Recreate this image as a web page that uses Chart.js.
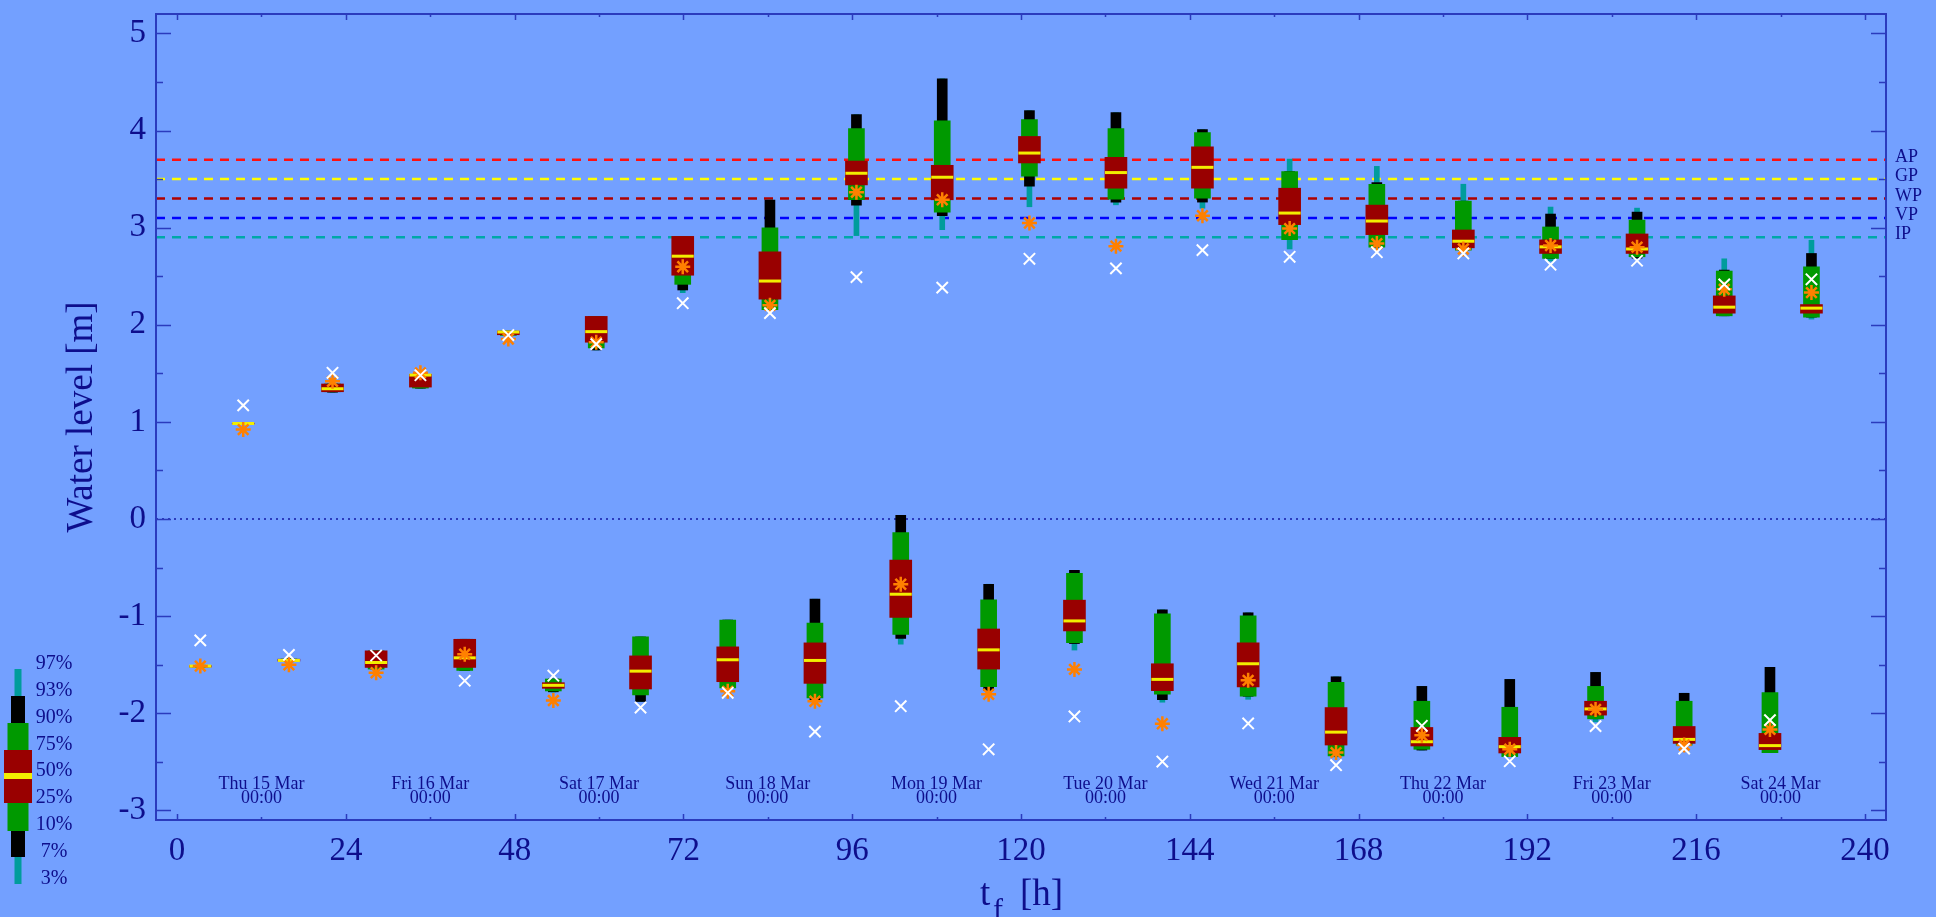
<!DOCTYPE html>
<html>
<head>
<meta charset="utf-8">
<title>Water level forecast</title>
<script src="https://cdn.jsdelivr.net/npm/chart.js@4.4.1/dist/chart.umd.min.js"></script>
<style>
  html, body { margin: 0; padding: 0; background: #73a0ff; overflow: hidden; }
  #wrap { position: relative; width: 1936px; height: 917px; }
</style>
</head>
<body>
<div id="wrap"><canvas id="tideChart"></canvas></div>
<script>
/* Ensemble water level forecast — percentile boxes per tide peak */

// forecast lead time of each high / low tide peak [h]
var hours = [3.3, 9.4, 15.9, 22.1, 28.3, 34.6, 40.9, 47.1, 53.5, 59.6, 65.9, 71.9, 78.3, 84.3, 90.7, 96.6, 102.9, 108.8, 115.4, 121.2,
  127.6, 133.5, 140.1, 145.8, 152.3, 158.2, 164.8, 170.6, 177.0, 182.9, 189.5, 195.3, 201.7, 207.6, 214.3, 220.0, 226.5, 232.4];

// ensemble percentiles [m]
var p03 = [-1.53, 0.975, -1.47, 1.305, -1.55, 1.345, -1.562, 1.885, -1.782, 1.74, -1.88, 2.33, -1.741, 2.154, -1.863, 2.918, -1.29, 2.98, -1.765, 3.215,
  -1.35, 3.235, -1.887, 3.2, -1.857, 2.78, -2.45, 2.8, -2.38, 2.768, -2.447, 2.655, -2.09, 2.686, -2.33, 2.092, -2.406, 2.058];
var p07 = [-1.53, 0.975, -1.47, 1.305, -1.548, 1.346, -1.561, 1.887, -1.78, 1.74, -1.88, 2.358, -1.741, 2.154, -1.863, 3.232, -1.229, 3.123, -1.765, 3.427,
  -1.283, 3.263, -1.86, 3.263, -1.826, 2.877, -2.44, 2.8, -2.38, 2.768, -2.447, 2.683, -2.058, 2.686, -2.33, 2.092, -2.406, 2.078];
var p10 = [-1.525, 0.977, -1.465, 1.31, -1.546, 1.348, -1.56, 1.89, -1.771, 1.761, -1.812, 2.416, -1.741, 2.154, -1.843, 3.287, -1.188, 3.16, -1.727, 3.529,
  -1.273, 3.294, -1.805, 3.304, -1.826, 2.877, -2.44, 2.8, -2.372, 2.768, -2.447, 2.683, -2.058, 2.70, -2.33, 2.092, -2.406, 2.078];
var p25 = [-1.525, 0.978, -1.464, 1.31, -1.529, 1.358, -1.529, 1.897, -1.744, 1.82, -1.751, 2.51, -1.676, 2.263, -1.693, 3.44, -1.014, 3.287, -1.546, 3.666,
  -1.153, 3.406, -1.768, 3.406, -1.73, 3.031, -2.328, 2.928, -2.338, 2.792, -2.41, 2.734, -2.02, 2.734, -2.311, 2.119, -2.375, 2.119];
var p50 = [-1.515, 0.983, -1.457, 1.341, -1.478, 1.482, -1.43, 1.925, -1.713, 1.929, -1.567, 2.706, -1.45, 2.45, -1.457, 3.56, -0.775, 3.519, -1.348, 3.768,
  -1.05, 3.567, -1.652, 3.621, -1.491, 3.15, -2.195, 3.068, -2.294, 2.86, -2.345, 2.802, -1.956, 2.78, -2.27, 2.181, -2.334, 2.171];
var p75 = [-1.51, 0.987, -1.444, 1.39, -1.358, 1.49, -1.239, 1.935, -1.686, 2.086, -1.41, 2.91, -1.317, 2.751, -1.276, 3.686, -0.423, 3.642, -1.133, 3.939,
  -0.836, 3.724, -1.491, 3.833, -1.276, 3.406, -1.942, 3.232, -2.147, 2.976, -2.249, 2.874, -1.877, 2.935, -2.137, 2.297, -2.208, 2.208];
var p90 = [-1.51, 0.988, -1.442, 1.39, -1.358, 1.49, -1.239, 1.935, -1.648, 2.086, -1.215, 2.91, -1.041, 2.997, -1.072, 4.02, -0.14, 4.10, -0.833, 4.113,
  -0.56, 4.02, -0.976, 3.98, -0.997, 3.577, -1.683, 3.447, -1.877, 3.273, -1.939, 3.007, -1.724, 3.078, -1.877, 2.553, -1.788, 2.597];
var p93 = [-1.505, 0.988, -1.44, 1.39, -1.358, 1.49, -1.239, 1.935, -1.648, 2.086, -1.215, 2.91, -1.041, 3.283, -0.826, 4.164, 0.038, 4.532, -0.672, 4.205,
  -0.529, 4.184, -0.935, 4.01, -0.966, 3.577, -1.625, 3.464, -1.724, 3.273, -1.652, 3.14, -1.58, 3.16, -1.795, 2.563, -1.529, 2.734];
var p97 = [-1.505, 0.99, -1.44, 1.39, -1.358, 1.49, -1.239, 1.935, -1.648, 2.086, -1.215, 2.91, -1.041, 3.283, -0.826, 4.164, 0.038, 4.532, -0.672, 4.205,
  -0.529, 4.184, -0.935, 4.01, -0.966, 3.706, -1.625, 3.631, -1.724, 3.447, -1.652, 3.212, -1.58, 3.201, -1.795, 2.679, -1.529, 2.87];

// ensemble mean (orange asterisk) and deterministic run (white cross) [m]
var meanLevel = [-1.515, 0.92, -1.502, 1.417, -1.584, 1.505, -1.392, 1.853, -1.87, 1.82, null, 2.597, -1.775, 2.2, -1.877, 3.365, -0.672, 3.287, -1.805, 3.048,
  -1.549, 2.809, -2.109, 3.123, -1.662, 2.99, -2.406, 2.836, -2.228, 2.78, -2.372, 2.816, -1.962, 2.799, -2.328, 2.365, -2.167, 2.331];
var detLevel = [-1.25, 1.17, -1.40, 1.505, -1.406, 1.48, -1.666, 1.894, -1.614, 1.80, -1.942, 2.222, -1.79, 2.12, -2.19, 2.49, -1.928, 2.382, -2.372, 2.679,
  -2.034, 2.58, -2.498, 2.768, -2.106, 2.70, -2.536, 2.747, -2.13, 2.734, -2.495, 2.618, -2.133, 2.659, -2.365, 2.416, -2.072, 2.468];

// warning thresholds [m]
var thresholdNames = ['AP', 'GP', 'WP', 'VP', 'IP'];
var thresholdLevels = [3.7, 3.5, 3.3, 3.1, 2.9];
var thresholdColors = ['#ff1010', '#ffff00', '#b00000', '#0000ff', '#00a8a8'];

// day marks
var dayHours = [12, 36, 60, 84, 108, 132, 156, 180, 204, 228];
var dayNames = ['Thu 15 Mar', 'Fri 16 Mar', 'Sat 17 Mar', 'Sun 18 Mar', 'Mon 19 Mar', 'Tue 20 Mar', 'Wed 21 Mar', 'Thu 22 Mar', 'Fri 23 Mar', 'Sat 24 Mar'];

var legendLabels = ['97%', '93%', '90%', '75%', '50%', '25%', '10%', '7%', '3%'];

var xMin = -3, xMax = 243;
var yMin = -3.1, yMax = 5.2;

(function () {
  'use strict';

  var bg = '#73a0ff';
  var navy = '#0e0e8c';
  var frameBlue = '#2b3bbd';
  var teal = '#009c9c';
  var green = '#009900';
  var darkRed = '#990000';
  var yellow = '#f2ee00';
  var orange = '#ff8000';
  var serif = "'Liberation Serif', 'DejaVu Serif', serif";

  function band(lo, hi) {
    return hours.map(function (h, i) {
      return { x: h, y: [lo[i], hi[i]] };
    });
  }

  function points(vals) {
    return hours.map(function (h, i) {
      return { x: h, y: vals[i] };
    });
  }

  var datasets = [];

  thresholdLevels.forEach(function (v, i) {
    datasets.push({
      type: 'line',
      label: thresholdNames[i],
      data: [{ x: xMin, y: v }, { x: xMax, y: v }],
      borderColor: thresholdColors[i],
      borderWidth: 2.5,
      borderDash: [9, 7],
      pointRadius: 0,
      order: 20
    });
  });

  datasets.push({
    type: 'line',
    label: 'zero',
    data: [{ x: xMin, y: 0 }, { x: xMax, y: 0 }],
    borderColor: frameBlue,
    borderWidth: 2,
    borderDash: [2, 4],
    pointRadius: 0,
    order: 20
  });

  function boxLayer(label, lo, hi, color, width, order) {
    return {
      type: 'bar',
      label: label,
      data: band(lo, hi),
      backgroundColor: color,
      borderWidth: 0,
      barThickness: width,
      grouped: false,
      order: order
    };
  }

  datasets.push(boxLayer('3-97%', p03, p97, teal, 5, 10));
  datasets.push(boxLayer('7-93%', p07, p93, '#000000', 10, 9));
  datasets.push(boxLayer('10-90%', p10, p90, green, 16, 8));
  datasets.push(boxLayer('25-75%', p25, p75, darkRed, 22, 7));

  datasets.push({
    type: 'scatter',
    label: 'median',
    data: points(p50),
    pointStyle: 'line',
    radius: 11,
    borderColor: yellow,
    borderWidth: 3,
    order: 6
  });

  datasets.push({
    type: 'scatter',
    label: 'mean',
    data: points(meanLevel),
    pointStyle: 'star',
    radius: 7.5,
    borderColor: orange,
    borderWidth: 2.5,
    order: 5
  });

  datasets.push({
    type: 'scatter',
    label: 'deterministic',
    data: points(detLevel),
    pointStyle: 'crossRot',
    radius: 8,
    borderColor: '#ffffff',
    borderWidth: 2,
    order: 4
  });

  function isWhole(v) {
    return Math.abs(v - Math.round(v)) < 1e-6;
  }

  var decorPlugin = {
    id: 'decor',
    beforeDraw: function (chart) {
      var ctx = chart.ctx;
      ctx.save();
      ctx.fillStyle = bg;
      ctx.fillRect(0, 0, chart.width, chart.height);
      ctx.restore();
    },
    afterDraw: function (chart) {
      var ctx = chart.ctx;
      var a = chart.chartArea;
      var xs = chart.scales.x;
      var ys = chart.scales.y;
      ctx.save();

      // frame with inward ticks on all four sides
      ctx.strokeStyle = frameBlue;
      ctx.lineWidth = 2;
      ctx.strokeRect(a.left, a.top, a.right - a.left, a.bottom - a.top);
      ctx.lineWidth = 1.5;
      ctx.beginPath();
      xs.ticks.forEach(function (t) {
        var x = Math.round(xs.getPixelForValue(t.value)) + 0.5;
        var len = t.value % 24 === 0 ? 6 : 3;
        ctx.moveTo(x, a.bottom);
        ctx.lineTo(x, a.bottom - len);
        ctx.moveTo(x, a.top);
        ctx.lineTo(x, a.top + len);
      });
      ys.ticks.forEach(function (t) {
        var y = Math.round(ys.getPixelForValue(t.value)) + 0.5;
        var len = isWhole(t.value) ? 15 : 7;
        ctx.moveTo(a.left, y);
        ctx.lineTo(a.left + len, y);
        ctx.moveTo(a.right, y);
        ctx.lineTo(a.right - len, y);
      });
      ctx.stroke();

      // threshold names on the right
      ctx.fillStyle = navy;
      ctx.font = '18px ' + serif;
      ctx.textAlign = 'left';
      ctx.textBaseline = 'alphabetic';
      thresholdLevels.forEach(function (v, i) {
        ctx.fillText(thresholdNames[i], a.right + 9, ys.getPixelForValue(v) + 2);
      });

      // day labels
      ctx.textAlign = 'center';
      ctx.font = '18px ' + serif;
      dayHours.forEach(function (h, i) {
        var x = xs.getPixelForValue(h);
        ctx.fillText(dayNames[i], x, a.bottom - 31);
        ctx.fillText('00:00', x, a.bottom - 17);
      });

      // axis titles
      ctx.save();
      ctx.translate(82, (a.top + a.bottom) / 2);
      ctx.rotate(-Math.PI / 2);
      ctx.font = '37px ' + serif;
      ctx.textBaseline = 'middle';
      ctx.fillText('Water level [m]', 0, 0);
      ctx.restore();

      ctx.textAlign = 'left';
      ctx.textBaseline = 'alphabetic';
      ctx.font = '37px ' + serif;
      ctx.fillText('t', 980, 905);
      ctx.font = '30px ' + serif;
      ctx.fillText('f', 993, 919);
      ctx.font = '37px ' + serif;
      ctx.fillText('[h]', 1020, 905);

      // percentile legend
      var cx = 18;
      function rect(w, y0, y1, c) {
        ctx.fillStyle = c;
        ctx.fillRect(cx - w / 2, y0, w, y1 - y0);
      }
      rect(7, 669, 696, teal);
      rect(14, 696, 723, '#000000');
      rect(21, 723, 750, green);
      rect(28, 750, 803, darkRed);
      rect(21, 803, 831, green);
      rect(14, 831, 857, '#000000');
      rect(7, 857, 884, teal);
      rect(28, 773, 779, yellow);
      ctx.fillStyle = navy;
      ctx.font = '20px ' + serif;
      ctx.textAlign = 'center';
      ctx.textBaseline = 'middle';
      legendLabels.forEach(function (s, i) {
        ctx.fillText(s, 54, 664 + i * 26.8);
      });

      ctx.restore();
    }
  };

  new Chart(document.getElementById('tideChart'), {
    type: 'bar',
    data: { datasets: datasets },
    options: {
      responsive: true,
      maintainAspectRatio: false,
      animation: false,
      events: [],
      layout: { padding: { top: 10, right: 50, bottom: 0, left: 0 } },
      plugins: {
        legend: { display: false },
        tooltip: { enabled: false },
        title: { display: false }
      },
      scales: {
        x: {
          type: 'linear',
          min: xMin,
          max: xMax,
          offset: false,
          grid: { display: false, drawTicks: false },
          border: { display: false },
          ticks: {
            stepSize: 12,
            includeBounds: false,
            autoSkip: false,
            maxRotation: 0,
            padding: 12,
            color: navy,
            font: { family: serif, size: 33 },
            callback: function (v) {
              return v % 24 === 0 ? String(v) : '';
            }
          },
          afterFit: function (s) {
            s.height = 97;
            s.paddingLeft = 0;
            s.paddingRight = 0;
          }
        },
        y: {
          type: 'linear',
          min: yMin,
          max: yMax,
          grid: { display: false, drawTicks: false },
          border: { display: false },
          ticks: {
            stepSize: 0.5,
            includeBounds: false,
            autoSkip: false,
            padding: 10,
            color: navy,
            font: { family: serif, size: 33 },
            callback: function (v) {
              return isWhole(v) ? String(Math.round(v)) : '';
            }
          },
          afterFit: function (s) {
            s.width = 156;
            s.paddingTop = 0;
            s.paddingBottom = 0;
          }
        }
      }
    },
    plugins: [decorPlugin]
  });
})();
</script>
</body>
</html>
